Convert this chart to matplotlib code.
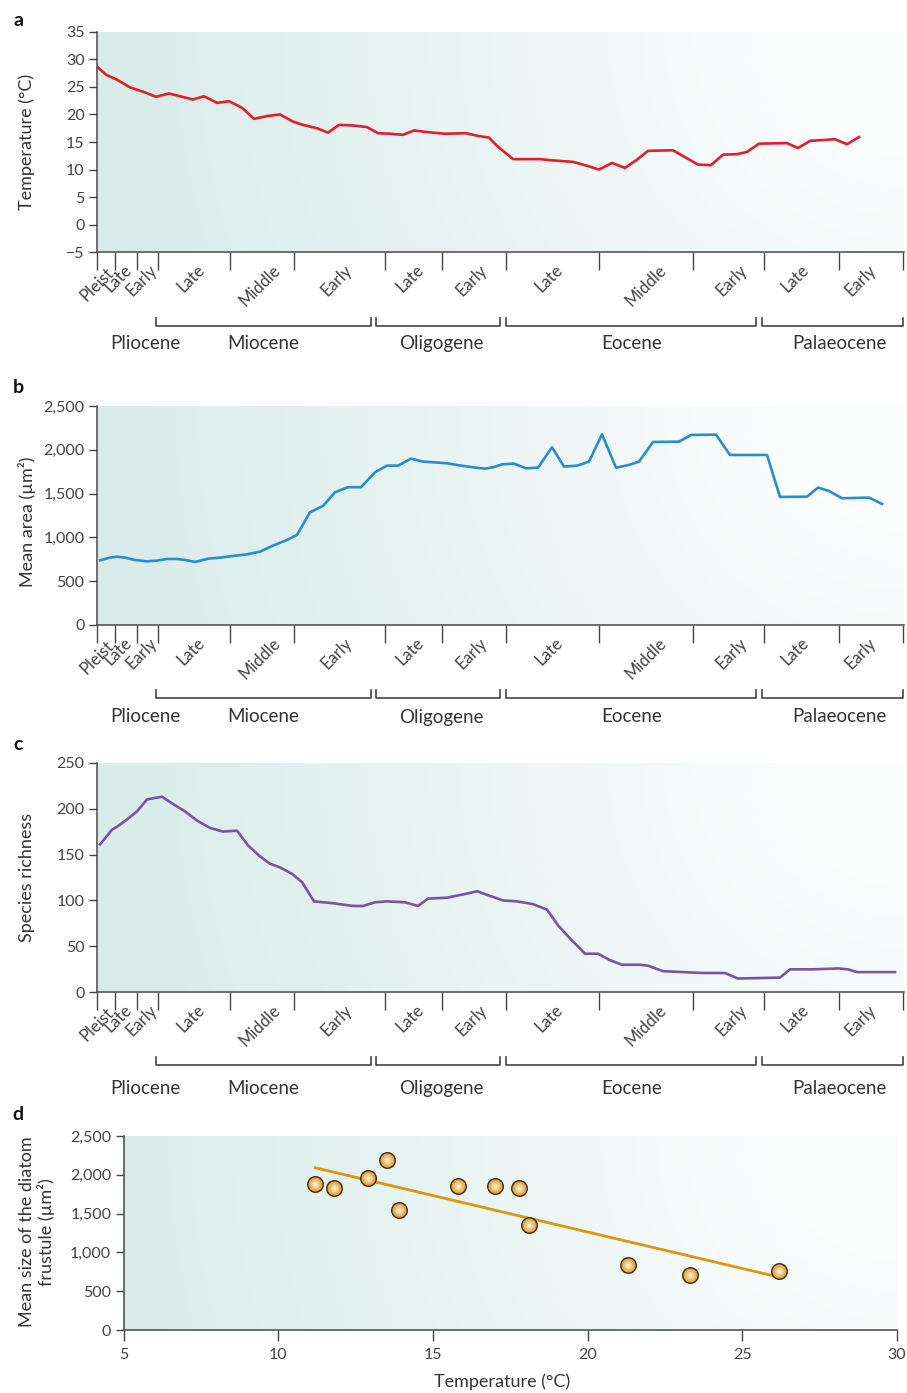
import numpy as np
import matplotlib
matplotlib.use("Agg")
import matplotlib.pyplot as plt
from matplotlib.ticker import StrMethodFormatter

plt.rcParams['font.family'] = ['Lato', 'DejaVu Sans']
plt.rcParams['text.color'] = '#333333'
plt.rcParams['axes.labelcolor'] = '#333333'
plt.rcParams['xtick.color'] = '#444444'
plt.rcParams['ytick.color'] = '#444444'

# --- schematic time axis (position units along the axis) ---
bounds = [0, 18, 40, 61, 133, 197, 288, 345, 409, 502, 596, 667, 742, 806]
age_labels = ['Pleist.', 'Late', 'Early', 'Late', 'Middle', 'Early', 'Late', 'Early',
              'Late', 'Middle', 'Early', 'Late', 'Early']
age_label_pos = [1, 21, 45, 94, 163, 240, 313, 375, 452, 549, 635, 698, 764]
era_names = ['Pliocene', 'Miocene', 'Oligogene', 'Eocene', 'Palaeocene']
era_label_pos = [48, 166, 344, 535, 742]
era_spans = [(59, 274), (279, 403), (409, 659), (665, 806)]

# --- a: temperature ---
temp_x = [1, 9, 20, 33, 48, 59, 72, 96, 107, 120, 132, 145, 157, 170, 183, 196, 206, 220,
          231, 242, 256, 270, 281, 293, 306, 317, 330, 348, 369, 381, 392, 400, 416, 443,
          453, 476, 490, 502, 515, 528, 540, 551, 576, 601, 614, 626, 640, 650, 662, 690,
          701, 713, 738, 750, 762]
temp_y = [28.5, 27.2, 26.3, 24.9, 24.0, 23.2, 23.8, 22.7, 23.3, 22.1, 22.4, 21.2, 19.2,
          19.7, 20.0, 18.7, 18.1, 17.5, 16.7, 18.1, 18.0, 17.7, 16.6, 16.5, 16.3, 17.1,
          16.8, 16.5, 16.6, 16.1, 15.8, 14.3, 11.9, 11.9, 11.7, 11.4, 10.7, 10.0, 11.2,
          10.3, 11.8, 13.4, 13.5, 10.9, 10.8, 12.7, 12.8, 13.2, 14.7, 14.8, 13.9, 15.2,
          15.5, 14.6, 15.9]

# --- b: mean area ---
area_x = [3, 13, 20, 28, 38, 50, 60, 70, 80, 90, 98, 111, 123, 136, 150, 163, 176, 190,
          200, 213, 226, 238, 251, 264, 278, 290, 301, 314, 326, 336, 350, 362, 376, 388,
          396, 405, 417, 429, 441, 455, 467, 480, 492, 505, 519, 532, 542, 556, 582, 594,
          619, 633, 670, 683, 710, 721, 732, 745, 772, 785]
area_y = [739, 769, 780, 769, 742, 727, 735, 754, 754, 739, 719, 757, 769, 788, 807, 837,
          906, 971, 1028, 1287, 1359, 1515, 1573, 1573, 1744, 1819, 1819, 1899, 1865, 1858,
          1846, 1823, 1800, 1785, 1800, 1834, 1842, 1789, 1796, 2029, 1808, 1819, 1865,
          2177, 1796, 1827, 1865, 2089, 2093, 2169, 2173, 1941, 1941, 1462, 1465, 1568,
          1530, 1447, 1454, 1382]

# --- c: species richness ---
rich_x = [3, 15, 21, 31, 40, 50, 65, 76, 88, 100, 113, 126, 140, 151, 163, 173, 183, 195,
          205, 217, 236, 256, 266, 278, 290, 308, 321, 331, 350, 368, 380, 393, 406, 420,
          436, 450, 461, 471, 488, 501, 513, 525, 543, 551, 566, 586, 606, 628, 641, 683,
          693, 716, 741, 751, 760, 798]
rich_y = [161, 177, 181, 189, 197, 210, 213, 205, 197, 187, 179, 175, 176, 160, 148, 140,
          136, 129, 120, 99, 97, 94, 94, 98, 99, 98, 94, 102, 103, 107, 110, 105, 100, 99,
          96, 90, 73, 61, 42, 42, 35, 30, 30, 29, 23, 22, 21, 21, 15, 16, 25, 25, 26, 25,
          22, 22]

# --- d: size vs temperature ---
pt_temp = [11.2, 11.8, 12.9, 13.5, 13.9, 15.8, 17.0, 17.8, 18.1, 21.3, 23.3, 26.2]
pt_size = [1880, 1830, 1965, 2185, 1540, 1860, 1860, 1830, 1355, 835, 710, 755]
fit_x = [11.2, 26.1]
fit_y = [2090, 690]

W, H = 907, 1393
fig = plt.figure(figsize=(W / 100, H / 100), dpi=100)


def box(l, t, r, b):
    return fig.add_axes([l / W, 1 - b / H, (r - l) / W, (b - t) / H])


def backdrop(ax, wpx, hpx):
    x0, x1 = ax.get_xlim()
    y0, y1 = ax.get_ylim()
    xs = np.linspace(0, wpx, 300)
    ys = np.linspace(0, hpx, 100)
    X, Y = np.meshgrid(xs, ys)
    d = np.hypot(wpx - X, hpx - Y)
    t = np.clip((d - 120) / 680, 0, 1) ** 0.9
    teal = np.array([0.85, 0.925, 0.915])
    white = np.array([0.985, 0.993, 0.993])
    img = white + (teal - white) * t[..., None]
    ax.imshow(img, extent=(x0, x1, y0, y1), origin='lower', aspect='auto',
              zorder=0, interpolation='bilinear')
    ax.set_xlim(x0, x1)
    ax.set_ylim(y0, y1)


def style(ax):
    for s in ['top', 'right']:
        ax.spines[s].set_visible(False)
    for s in ['left', 'bottom']:
        ax.spines[s].set_color('#555555')
        ax.spines[s].set_linewidth(1.2)
    ax.tick_params(axis='y', length=6, width=1, labelsize=11.5, pad=3)


def time_axis(ax, hpx, y_br, y_lab):
    ax.set_xlim(0, 807)
    ax.set_xticks(bounds, labels=[''] * len(bounds))
    ax.set_xticks(age_label_pos, labels=age_labels, minor=True)
    ax.tick_params(axis='x', which='major', length=13, width=1)
    ax.tick_params(axis='x', which='minor', length=0, pad=7, labelsize=12)
    for lab in ax.get_xticklabels(minor=True):
        lab.set_rotation(45)
        lab.set_ha('center')
        lab.set_va('top')
    tr = ax.get_xaxis_transform()
    for a, b in era_spans:
        yb = -y_br / hpx
        yt = -(y_br - 8) / hpx
        ax.plot([a, a, b, b], [yt, yb, yb, yt], transform=tr, clip_on=False,
                color='#444444', lw=1.2)
    for name, x in zip(era_names, era_label_pos):
        ax.text(x, -y_lab / hpx, name, transform=tr, ha='center', va='center',
                fontsize=13.5)


# panel a
ax = box(97, 31.7, 904, 252.3)
style(ax)
ax.plot(temp_x, temp_y, color='#e31e2a', lw=1.9, zorder=3)
ax.set_ylim(-5, 35)
ax.set_yticks(range(-5, 36, 5))
time_axis(ax, 220.6, 74, 91)
backdrop(ax, 807, 220.6)
ax.set_ylabel('Temperature (°C)', fontsize=13, va='center')
ax.yaxis.set_label_coords(-0.0867, 0.5)

# panel b
ax = box(97, 406, 904, 625)
style(ax)
ax.plot(area_x, area_y, color='#2a8dcb', lw=1.9, zorder=3)
ax.set_ylim(0, 2500)
ax.set_yticks(range(0, 2501, 500))
ax.yaxis.set_major_formatter(StrMethodFormatter('{x:,.0f}'))
time_axis(ax, 219, 73, 92)
backdrop(ax, 807, 219)
ax.set_ylabel('Mean area (µm²)', fontsize=13, va='center')
ax.yaxis.set_label_coords(-0.0867, 0.47)

# panel c
ax = box(97, 762.7, 904, 992.3)
style(ax)
ax.plot(rich_x, rich_y, color='#7a52a6', lw=1.9, zorder=3)
ax.set_ylim(0, 250)
ax.set_yticks(range(0, 251, 50))
time_axis(ax, 229.6, 73, 96)
backdrop(ax, 807, 229.6)
ax.set_ylabel('Species richness', fontsize=13, va='center')
ax.yaxis.set_label_coords(-0.0867, 0.5)

# panel d
ax = box(123.7, 1136, 896.7, 1330)
style(ax)
ax.set_xlim(5, 30)
ax.set_ylim(0, 2500)
ax.set_xticks(range(5, 31, 5))
ax.set_yticks(range(0, 2501, 500))
ax.yaxis.set_major_formatter(StrMethodFormatter('{x:,.0f}'))
ax.tick_params(axis='x', length=8, width=1, labelsize=11.5, pad=5)
ax.plot(fit_x, fit_y, color='#dc960e', lw=2, zorder=3)
ax.scatter(pt_temp, pt_size, s=125, color='#e2a240', edgecolor='#3a2c14', lw=1, zorder=4)
ax.scatter(pt_temp, pt_size, s=70, color='#ecb666', lw=0, zorder=5)
ax.scatter(pt_temp, pt_size, s=30, color='#f5d398', lw=0, zorder=6)
ax.scatter(pt_temp, pt_size, s=7, color='#fdf2dc', lw=0, zorder=7)
backdrop(ax, 773, 194)
ax.set_ylabel('Mean size of the diatom\nfrustule (µm²)', fontsize=13, va='center',
              linespacing=1.1)
ax.yaxis.set_label_coords(-0.112, 0.505)
ax.set_xlabel('Temperature (°C)', fontsize=13, va='center')
ax.xaxis.set_label_coords(0.489, -0.268)

for letter, y in zip('abcd', [20, 387, 745, 1115]):
    fig.text(18 / W, 1 - y / H, letter, fontsize=14, fontweight='bold', va='center',
             ha='center', color='#111111')

fig.savefig('out.png', dpi=100)
